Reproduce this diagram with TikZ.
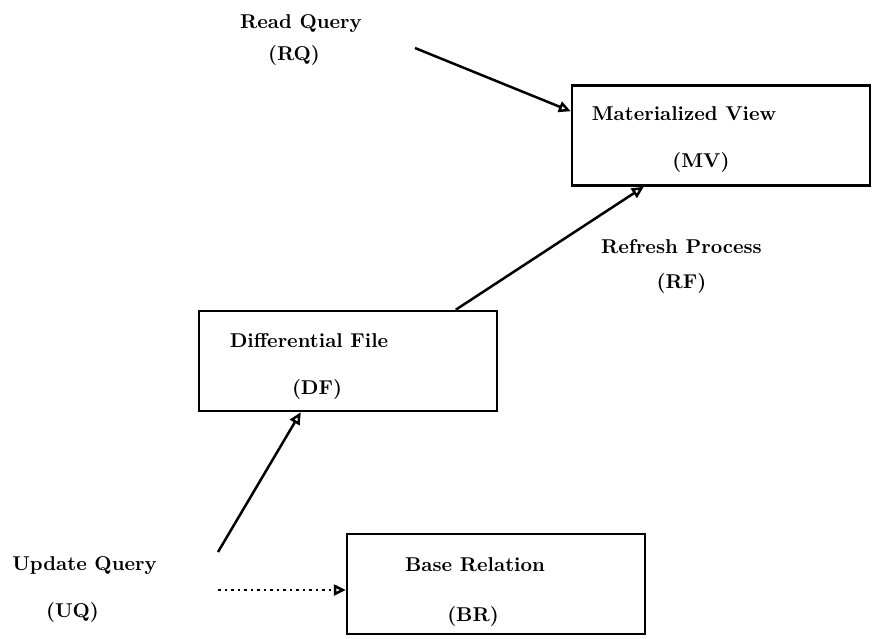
\documentclass[tikz,border=0pt]{standalone}
\usetikzlibrary{positioning,arrows.meta}

\begin{document}
\begin{tikzpicture}[
		x=0.5pt, y=-0.5pt,
		line width=1.25pt,
		node distance=24pt,
		box/.style = {draw, inner sep=0pt, minimum width=149pt, minimum height=50pt},
		txt/.style = {font=\bfseries, inner sep=0pt},
		>={Triangle[open, length=6pt, width=5.5pt]}
	]
	\useasboundingbox (0,0) rectangle (873,638);
	% Boxes.
	\node[box] (mv) at (721,135.5) {};
	\node[box] (df) at (348,361) {};
	\node[box] (br) at (496,584) {};
	% Box texts.
	\node[txt] (mvt) at (684,114) {Materialized View};
	\node[txt, below of=mvt, xshift=8.5pt] (mvs) {(MV)};
	\node[txt] (dft) at (309,341) {Differential File};
	\node[txt, below of=dft, xshift=4pt] (dfs) {(DF)};
	\node[txt] (brt) at (475,565) {Base Relation};
	\node[txt, below of=brt, node distance=25.5pt, xshift=-1pt] (brs) {(BR)};
	% Free labels.
	\node[txt] (rq) at (301,24) {Read Query};
	\node[txt, below of=rq, node distance=15.5pt, xshift=-3.5pt] (rqs) {(RQ)};
	\node[txt] (rf) at (681.5,247) {Refresh Process};
	\node[txt, below of=rf, node distance=18pt] (rfs) {(RF)};
	\node[txt] (uq) at (84.5,566) {Update Query};
	\node[txt, below of=uq, node distance=23pt, xshift=-6pt] (uqs) {(UQ)};
	% Loose ends of the query arrows.
	\coordinate (rqfrom) at (415,48);
	\coordinate (uqfrom) at (218,552);
	\coordinate (uqdot) at (218,590);

	\draw[->] (rqfrom) to ([yshift=-13.5pt]mv.north west);
	\draw[->] ([xshift=129pt]df.north west) to ([xshift=36.5pt]mv.south west);
	\draw[->] (uqfrom) to ([xshift=51.5pt]df.south west);
	\draw[->, dotted] (uqdot) to (br.west |- uqdot);
\end{tikzpicture}
\end{document}
